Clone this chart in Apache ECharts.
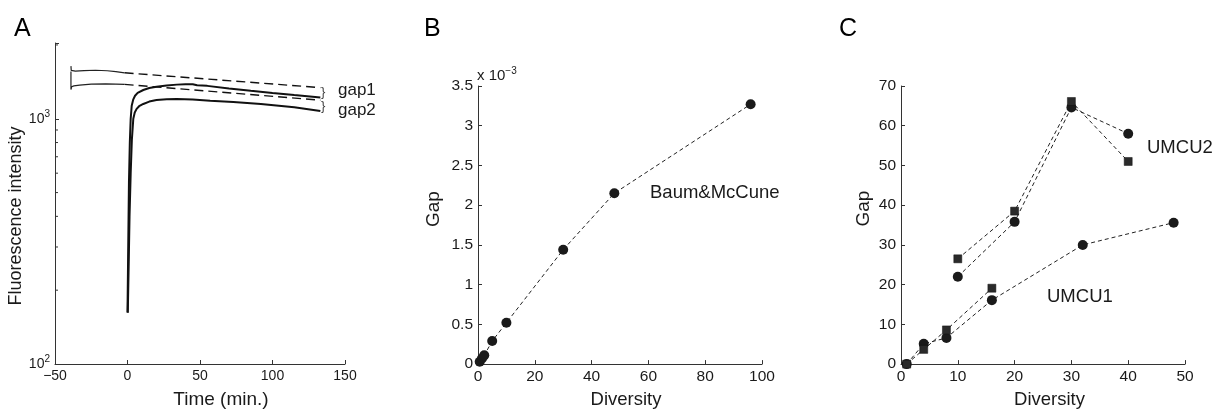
<!DOCTYPE html>
<html>
<head>
<meta charset="utf-8">
<script src="https://cdn.jsdelivr.net/npm/echarts@6/dist/echarts.min.js"></script>
<style>
  html, body { margin: 0; padding: 0; background: #fff; }
  #chart { width: 1216px; height: 414px; }
</style>
</head>
<body>
<div id="chart"></div>
<script>
// ---- Panel A: fluorescence traces (time in minutes, log intensity) ----
const refUpperTime  = [-39, -38.8, -38, -36, -30, -22, -14, -8, -2];
const refUpperValue = [1640, 1575, 1562, 1565, 1572, 1577, 1570, 1556, 1540];
const refLowerTime  = [-39, -39, -38.5, -37, -33, -25, -15, -8, -2];
const refLowerValue = [1560, 1315, 1350, 1362, 1372, 1384, 1388, 1385, 1381];

const trendUpperTime  = [-2, 133];
const trendUpperValue = [1540, 1340];
const trendLowerTime  = [-2, 133];
const trendLowerValue = [1381, 1191];

const sampleUpperTime  = [0, 0.5, 1.0, 1.6, 2.2, 2.9, 4, 5.2, 7, 10.9, 15, 20, 27, 34, 40, 45, 48, 55, 70, 85, 100, 115, 133];
const sampleUpperValue = [162, 300, 550, 800, 1000, 1130, 1200, 1241, 1275, 1310, 1335, 1352, 1368, 1378, 1382, 1384, 1370, 1362, 1330, 1300, 1274, 1249, 1222];
const sampleLowerTime  = [0.2, 0.8, 1.4, 2.2, 3.0, 4.0, 5, 6.3, 8, 10.9, 15, 20, 27, 34, 45, 57, 73, 92, 115, 133];
const sampleLowerValue = [162, 250, 400, 600, 820, 1000, 1060, 1097, 1125, 1149, 1175, 1192, 1200, 1203, 1198, 1184, 1170, 1149, 1114, 1075];

const logMinorTicks = [200, 300, 400, 500, 600, 700, 800, 900, 2000];

// ---- Panel B: Baum&McCune gap (x 10^-3) versus diversity ----
const baumDiversity = [0.6, 1.4, 2.2, 5, 10, 30, 48, 96];
const baumGap       = [0.03, 0.07, 0.11, 0.29, 0.52, 1.44, 2.15, 3.27];

// ---- Panel C: UMCU gaps versus diversity ----
const umcu1CircleDiversity = [1, 4, 8, 16, 32, 48];
const umcu1CircleGap       = [0, 5.1, 6.6, 16.1, 30.0, 35.6];
const umcu1SquareDiversity = [1, 4, 8, 16];
const umcu1SquareGap       = [0, 3.7, 8.6, 19.1];
const umcu2CircleDiversity = [10, 20, 30, 40];
const umcu2CircleGap       = [22.0, 35.8, 64.6, 58.0];
const umcu2SquareDiversity = [10, 20, 30, 40];
const umcu2SquareGap       = [26.5, 38.5, 66.1, 51.0];

const zip = (xs, ys) => xs.map((x, i) => [x, ys[i]]);

const FONT = 'Liberation Sans, Arial, Helvetica, sans-serif';
const INK = '#1a1a1a';
const AXIS = '#333';

function axisBase(extra) {
  return Object.assign({
    axisLine: { show: true, onZero: false, lineStyle: { color: AXIS, width: 1 } },
    axisTick: { show: true, inside: true, length: 4, lineStyle: { color: AXIS } },
    splitLine: { show: false },
    nameLocation: 'middle',
    nameTextStyle: { fontSize: 18.5, color: INK, fontFamily: FONT }
  }, extra);
}

const option = {
  animation: false,
  backgroundColor: '#fff',
  textStyle: { fontFamily: FONT, color: INK },
  grid: [
    { left: 55,  top: 43, width: 290, height: 327 },
    { left: 478, top: 86, width: 284, height: 284 },
    { left: 901, top: 86, width: 284, height: 284 }
  ],
  xAxis: [
    axisBase({
      gridIndex: 0, type: 'value', min: -50, max: 150, interval: 50,
      name: 'Time (min.)', nameGap: 26,
      nameTextStyle: { fontSize: 19, color: INK, fontFamily: FONT, padding: [0, 0, 0, 42] },
      axisLabel: { fontSize: 14, color: INK, margin: 5,
        formatter: v => String(v).replace('-', '\u2212') }
    }),
    axisBase({
      gridIndex: 1, type: 'value', min: 0, max: 100, interval: 20,
      name: 'Diversity', nameGap: 20,
      nameTextStyle: { fontSize: 18.5, color: INK, fontFamily: FONT, padding: [0, 0, 0, 12] },
      axisLabel: { fontSize: 15.5, color: INK, margin: 5 }
    }),
    axisBase({
      gridIndex: 2, type: 'value', min: 0, max: 50, interval: 10,
      name: 'Diversity', nameGap: 20,
      nameTextStyle: { fontSize: 18.5, color: INK, fontFamily: FONT, padding: [0, 0, 0, 13] },
      axisLabel: { fontSize: 15.5, color: INK, margin: 5 }
    })
  ],
  yAxis: [
    axisBase({
      gridIndex: 0, type: 'log', logBase: 10, min: 100, max: 2037,
      name: 'Fluorescence intensity', nameGap: 25,
      nameTextStyle: { fontSize: 18, color: INK, fontFamily: FONT, padding: [0, 25, 0, 0] },
      axisLabel: {
        margin: 5,
        formatter: v => {
          const e = Math.round(Math.log10(v));
          if (Math.abs(v - Math.pow(10, e)) > 1e-6 * v) return '';
          return '{b|10}{s|' + e + '}';
        },
        rich: {
          b: { fontSize: 14, color: INK, fontFamily: FONT },
          s: { fontSize: 10, color: INK, fontFamily: FONT, padding: [0, 0, 9, 0] }
        }
      }
    }),
    axisBase({
      gridIndex: 1, type: 'value', min: 0, max: 3.5, interval: 0.5,
      name: 'Gap', nameGap: 35,
      nameTextStyle: { fontSize: 19, color: INK, fontFamily: FONT, padding: [0, 0, 0, 32] },
      axisLabel: { fontSize: 15.5, color: INK, margin: 5 }
    }),
    axisBase({
      gridIndex: 2, type: 'value', min: 0, max: 70, interval: 10,
      name: 'Gap', nameGap: 28,
      nameTextStyle: { fontSize: 19, color: INK, fontFamily: FONT, padding: [0, 0, 0, 33] },
      axisLabel: { fontSize: 15.5, color: INK, margin: 5 }
    })
  ],
  series: [
    // Panel A
    { type: 'line', xAxisIndex: 0, yAxisIndex: 0, data: zip(refUpperTime, refUpperValue),
      showSymbol: false, lineStyle: { color: '#222', width: 1.2 } },
    { type: 'line', xAxisIndex: 0, yAxisIndex: 0, data: zip(refLowerTime, refLowerValue),
      showSymbol: false, lineStyle: { color: '#222', width: 1.2 } },
    { type: 'line', xAxisIndex: 0, yAxisIndex: 0, data: zip(trendUpperTime, trendUpperValue),
      showSymbol: false, lineStyle: { color: '#111', width: 1.4, type: [9, 5] } },
    { type: 'line', xAxisIndex: 0, yAxisIndex: 0, data: zip(trendLowerTime, trendLowerValue),
      showSymbol: false, lineStyle: { color: '#111', width: 1.4, type: [9, 5] } },
    { type: 'line', xAxisIndex: 0, yAxisIndex: 0, data: zip(sampleUpperTime, sampleUpperValue),
      showSymbol: false, lineStyle: { color: '#111', width: 2 } },
    { type: 'line', xAxisIndex: 0, yAxisIndex: 0, data: zip(sampleLowerTime, sampleLowerValue),
      showSymbol: false, lineStyle: { color: '#111', width: 2 } },
    // minor ticks of the log axis
    { type: 'custom', xAxisIndex: 0, yAxisIndex: 0, data: logMinorTicks, silent: true,
      renderItem: (params, api) => {
        const p = api.coord([-50, api.value(0)]);
        return { type: 'line', shape: { x1: p[0], y1: p[1], x2: p[0] + 3, y2: p[1] },
                 style: { stroke: AXIS, lineWidth: 1 } };
      }, encode: { y: 0 } },
    // Panel B
    { type: 'line', xAxisIndex: 1, yAxisIndex: 1, data: zip(baumDiversity, baumGap),
      symbol: 'circle', symbolSize: 10, itemStyle: { color: INK },
      lineStyle: { color: '#222', width: 1, type: [4, 3] } },
    // Panel C
    { type: 'line', xAxisIndex: 2, yAxisIndex: 2, data: zip(umcu1CircleDiversity, umcu1CircleGap),
      symbol: 'circle', symbolSize: 10, itemStyle: { color: INK },
      lineStyle: { color: '#222', width: 1, type: [4, 3] } },
    { type: 'line', xAxisIndex: 2, yAxisIndex: 2, data: zip(umcu1SquareDiversity, umcu1SquareGap),
      symbol: 'rect', symbolSize: 8, itemStyle: { color: '#2a2a2a', borderColor: '#111', borderWidth: 0.5 },
      lineStyle: { color: '#222', width: 1, type: [4, 3] } },
    { type: 'line', xAxisIndex: 2, yAxisIndex: 2, data: zip(umcu2CircleDiversity, umcu2CircleGap),
      symbol: 'circle', symbolSize: 10, itemStyle: { color: INK },
      lineStyle: { color: '#222', width: 1, type: [4, 3] } },
    { type: 'line', xAxisIndex: 2, yAxisIndex: 2, data: zip(umcu2SquareDiversity, umcu2SquareGap),
      symbol: 'rect', symbolSize: 8, itemStyle: { color: '#2a2a2a', borderColor: '#111', borderWidth: 0.5 },
      lineStyle: { color: '#222', width: 1, type: [4, 3] } }
  ],
  graphic: [
    // panel letters
    { type: 'text', left: 14, top: 17, style: { text: 'A', fontSize: 25, fill: '#000', fontFamily: FONT } },
    { type: 'text', left: 424, top: 17, style: { text: 'B', fontSize: 25, fill: '#000', fontFamily: FONT } },
    { type: 'text', left: 839, top: 17, style: { text: 'C', fontSize: 25, fill: '#000', fontFamily: FONT } },
    // gap annotations in panel A
    { type: 'text', x: 321, y: 92.5, style: { text: '}', fontSize: 13, fill: '#444', fontFamily: FONT, verticalAlign: 'middle' } },
    { type: 'text', x: 321, y: 106, style: { text: '}', fontSize: 13, fill: '#444', fontFamily: FONT, verticalAlign: 'middle' } },
    { type: 'text', x: 338, y: 90, style: { text: 'gap1', fontSize: 17, fill: INK, fontFamily: FONT, verticalAlign: 'middle' } },
    { type: 'text', x: 338, y: 110, style: { text: 'gap2', fontSize: 17, fill: INK, fontFamily: FONT, verticalAlign: 'middle' } },
    // exponent note for panel B
    { type: 'text', x: 477, y: 76, style: {
        text: '{b|x 10}{s|\u22123}', verticalAlign: 'middle',
        rich: {
          b: { fontSize: 15, fill: INK, fontFamily: FONT },
          s: { fontSize: 10, fill: INK, fontFamily: FONT, padding: [0, 0, 9, 0] }
        } } },
    { type: 'text', x: 650, y: 193, style: { text: 'Baum&McCune', fontSize: 18.5, fill: INK, fontFamily: FONT, verticalAlign: 'middle' } },
    { type: 'text', x: 1147, y: 148, style: { text: 'UMCU2', fontSize: 18.5, fill: INK, fontFamily: FONT, verticalAlign: 'middle' } },
    { type: 'text', x: 1047, y: 297, style: { text: 'UMCU1', fontSize: 18.5, fill: INK, fontFamily: FONT, verticalAlign: 'middle' } }
  ]
};

const chart = echarts.init(document.getElementById('chart'), null, { renderer: 'canvas' });
chart.setOption(option);
</script>
</body>
</html>
